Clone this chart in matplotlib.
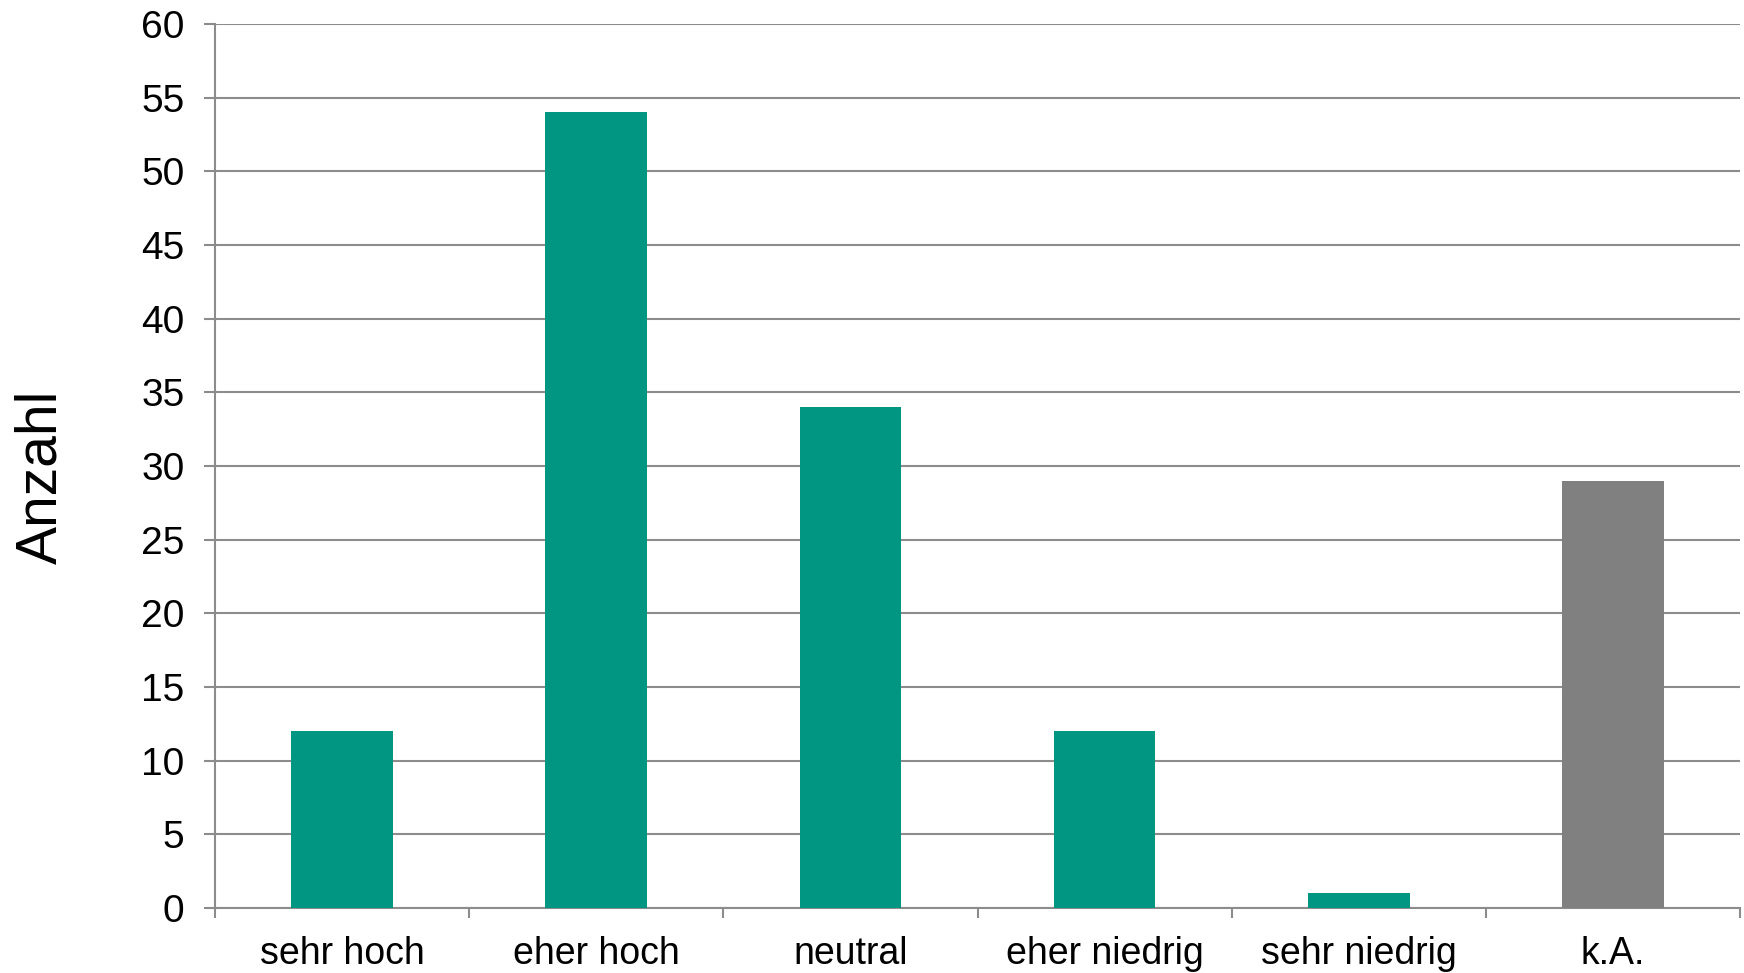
import numpy as np
import matplotlib.pyplot as plt

plt.rcParams['font.family'] = ['Liberation Sans', 'DejaVu Sans']

categories = ['sehr hoch', 'eher hoch', 'neutral', 'eher niedrig', 'sehr niedrig', 'k.A.']
counts = [12, 54, 34, 12, 1, 29]
colors = ['#009682', '#009682', '#009682', '#009682', '#009682', '#808080']

fig = plt.figure(figsize=(17.44, 9.73), dpi=100)
ax = fig.add_axes([0.1233, 0.0668, 0.8744, 0.9085])

x = np.arange(len(categories))
ax.bar(x, counts, 0.4, color=colors, zorder=3)

ax.set_xlim(-0.5, len(categories) - 0.5)
ax.set_ylim(0, 60)
ax.set_yticks(np.arange(0, 61, 5))
ax.yaxis.grid(True, color='#8c8c8c', linewidth=1.5, zorder=0)

ax.set_xticks(x)
ax.set_xticklabels(categories)
ax.set_xticks(np.arange(-0.5, len(categories)), minor=True)
ax.tick_params(axis='x', which='major', length=0, pad=20.5, labelsize=27)
ax.tick_params(axis='x', which='minor', length=7.5, width=1.5, color='#8c8c8c', direction='out')
ax.tick_params(axis='y', length=8, width=1.5, color='#8c8c8c', pad=14, labelsize=28)

for s in ['top', 'right']:
    ax.spines[s].set_visible(False)
for s in ['left', 'bottom']:
    ax.spines[s].set_color('#8c8c8c')
    ax.spines[s].set_linewidth(1.5)

fig.text(0.024, 0.51, 'Anzahl', rotation=90, fontsize=41, ha='center', va='center')

fig.savefig('out.png', dpi=100)
